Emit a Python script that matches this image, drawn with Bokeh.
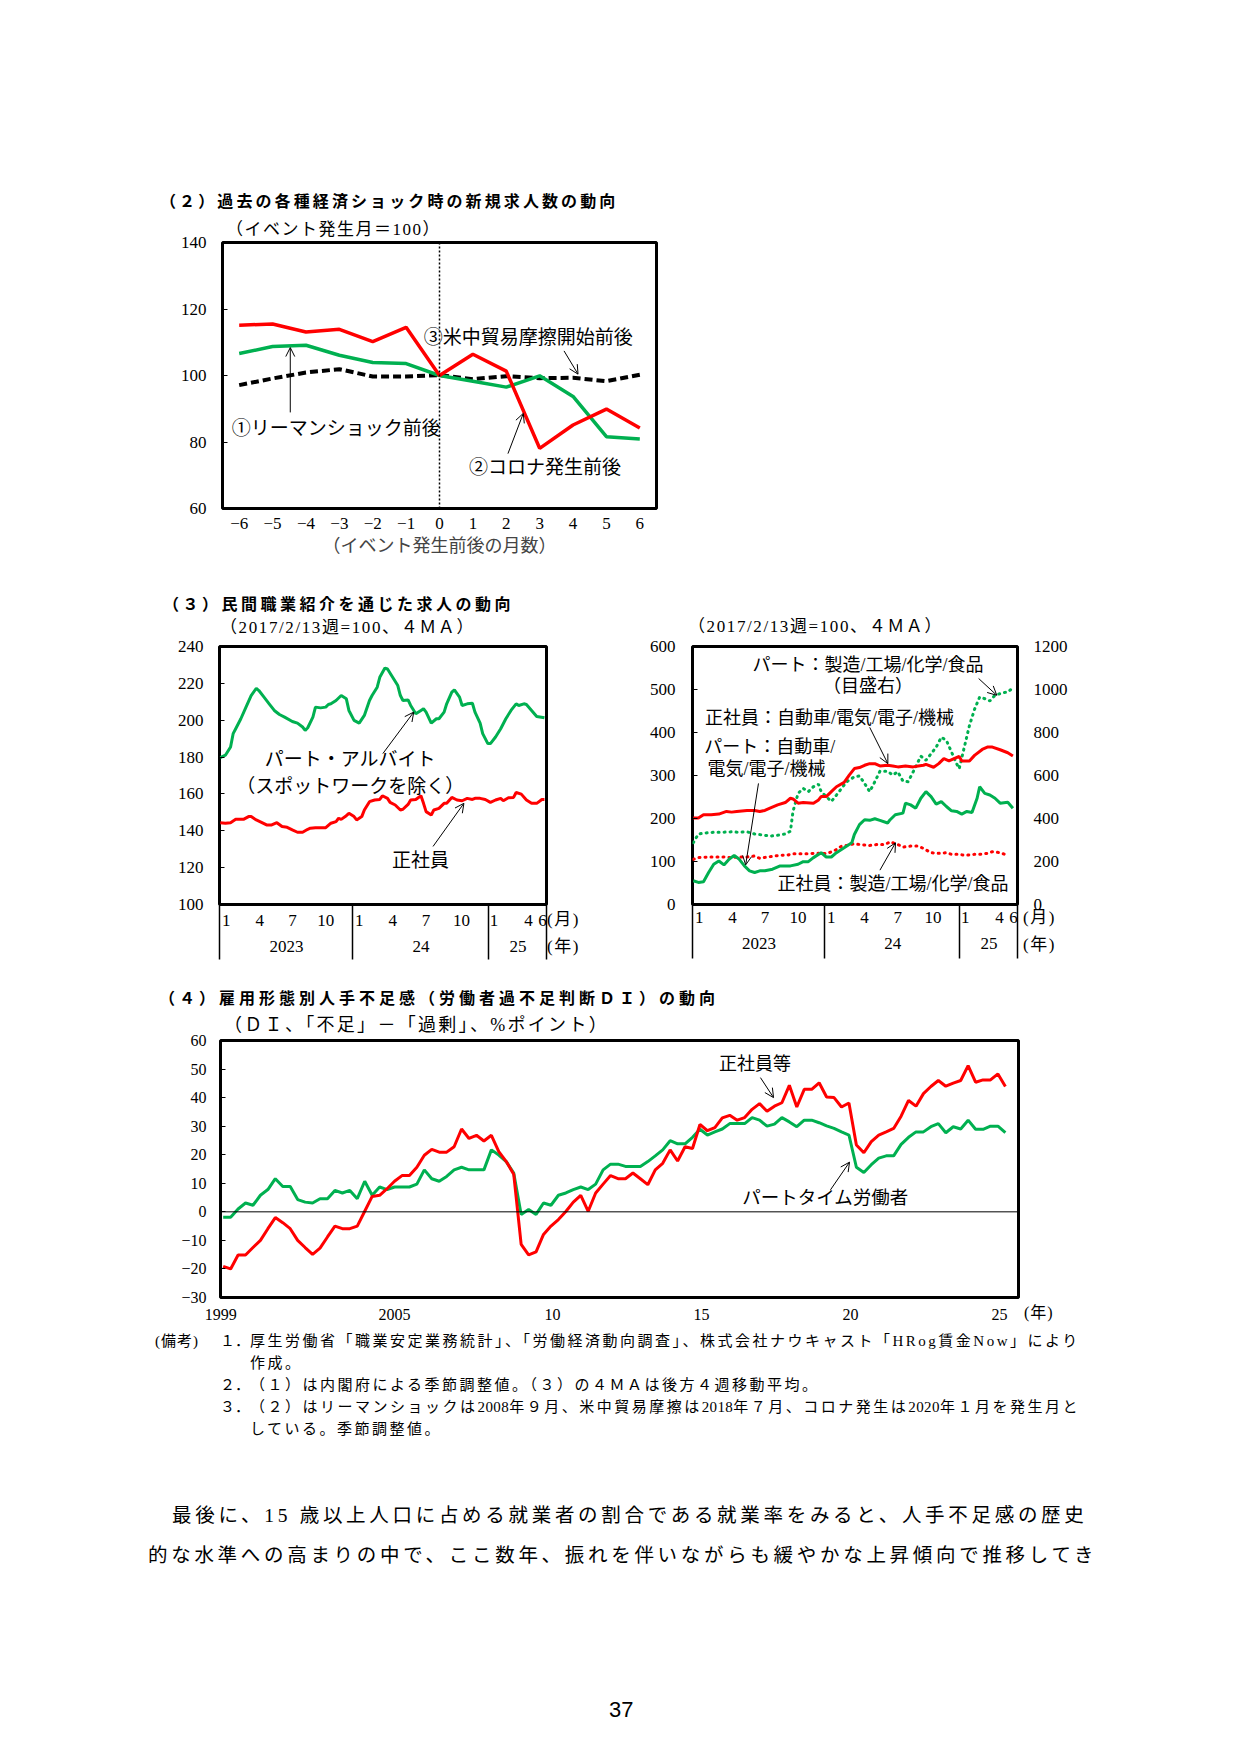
import numpy as np
from bokeh.plotting import figure
from bokeh.models import (Label, Arrow, OpenHead, Span, FixedTicker, LinearAxis,
                          Range1d, Div, Spacer, GridBox)
from bokeh.layouts import column, row
from bokeh.embed import file_html
from bokeh.resources import INLINE

# ======================= DATA =======================
# (2) new job offers around past economic shocks (event month = 100)
event_months = [-6, -5, -4, -3, -2, -1, 0, 1, 2, 3, 4, 5, 6]
event_month_labels = ["−6", "−5", "−4", "−3", "−2", "−1", "0", "1", "2", "3", "4", "5", "6"]
lehman = [106.6, 108.7, 109.1, 106.1, 103.9, 103.6, 100.0, 98.3, 96.5, 99.9, 93.7, 81.6, 80.9]
covid = [115.1, 115.5, 113.1, 113.9, 110.2, 114.5, 100.0, 106.4, 101.3, 78.1, 85.1, 89.9, 84.2]
trade = [97.1, 99.1, 100.9, 101.9, 99.7, 99.7, 100.1, 98.9, 99.8, 99.2, 99.3, 98.3, 100.2]

# (3) weeks counted from the first week of Jan 2023
month_tick_pos = [2.3, 15.3, 28.1, 41.0, 54.0, 67.0, 80.0, 93.8, 106.4, 119.8, 125.2]
month_tick_labels = ["1", "4", "7", "10", "1", "4", "7", "10", "1", "4", "6"]
year_bounds = [-0.2, 51.4, 104.2, 126.7]
year_label_pos = [25.7, 78.0, 115.7]
year_labels = ["2023", "24", "25"]

part_w = [0, 2, 4, 5, 6, 8, 10, 12, 14, 15, 17, 19, 21, 23, 25, 28, 30, 32, 33, 34,
          36, 37, 39, 41, 42, 43, 45, 47, 49, 50, 52, 54, 56, 58, 59, 61, 62, 64, 65, 67,
          69, 70, 71, 73, 74, 76, 78, 79, 80, 82, 84, 85, 87, 88, 90, 91, 93, 94, 96, 98,
          99, 101, 102, 104, 105, 107, 109, 111, 113, 115, 116, 118, 119, 121, 123, 126]
part_v = [179.7, 181.0, 185.5, 192.7, 195.4, 200.8, 207.1, 213.4, 217.3, 216.1,
          212.5, 208.9, 205.3, 203.1, 201.7, 199.3, 198.4, 196.3, 194.5, 195.9,
          201.7, 207.1, 206.7, 207.1, 208.5, 208.9, 210.7, 213.4, 211.6, 205.3,
          199.9, 198.4, 202.6, 210.7, 213.4, 217.9, 223.3, 228.3, 227.8, 223.3,
          218.8, 213.4, 210.7, 211.0, 208.0, 203.5, 205.3, 206.2, 204.4, 198.4,
          200.8, 200.8, 204.4, 208.9, 215.2, 216.4, 212.5, 208.0, 208.9, 209.2,
          204.4, 198.4, 192.7, 187.3, 187.3, 190.9, 195.4, 200.8, 205.3, 208.9,
          208.0, 208.9, 208.5, 205.3, 202.0, 201.3]
reg_w = [0, 2, 4, 6, 8, 9, 11, 12, 14, 16, 18, 20, 22, 24, 26, 28, 30, 32, 34, 35,
         37, 39, 41, 43, 45, 46, 47, 49, 50, 52, 53, 55, 56, 58, 60, 62, 63, 65, 66, 68,
         70, 71, 73, 74, 76, 78, 79, 80, 82, 83, 85, 87, 88, 90, 92, 94, 96, 98, 99, 101,
         103, 105, 107, 109, 110, 112, 114, 115, 117, 119, 121, 123, 125, 126]
reg_v = [144.4, 144.1, 144.4, 146.2, 146.2, 146.2, 147.7, 147.7, 145.9, 144.6,
         143.2, 143.2, 144.4, 142.3, 141.9, 140.5, 139.2, 139.2, 140.8, 141.4,
         141.7, 141.7, 141.7, 144.1, 145.0, 146.8, 146.2, 148.2, 149.5, 147.7,
         145.9, 147.7, 151.3, 155.8, 156.7, 157.0, 159.0, 157.6, 155.4, 154.0,
         151.3, 151.7, 154.3, 156.7, 157.0, 159.0, 154.9, 150.4, 148.6, 151.3,
         152.2, 154.9, 154.9, 158.1, 156.7, 156.3, 157.6, 157.0, 157.6, 157.6,
         157.0, 155.4, 156.7, 157.6, 156.3, 157.9, 158.1, 160.8, 159.9, 156.7,
         154.9, 154.9, 157.0, 157.0]

reg_auto_w = [0, 2, 4, 7, 10, 13, 15, 17, 21, 24, 26, 28, 30, 33, 36, 38, 39, 41, 43, 47,
              49, 50, 52, 54, 56, 59, 61, 63, 65, 67, 69, 71, 73, 76, 78, 80, 83, 86, 88, 90,
              91, 94, 96, 98, 100, 102, 104, 105, 108, 110, 113, 115, 117, 120, 123, 125]
reg_auto_v = [201.0, 201.0, 208.7, 208.7, 210.2, 216.4, 214.8, 216.4, 218.7, 218.7,
              216.4, 218.7, 224.0, 231.7, 237.1, 247.1, 245.5, 235.6, 237.1, 235.6,
              243.2, 250.9, 250.9, 262.4, 273.9, 283.9, 300.8, 316.1, 318.4, 323.8,
              327.6, 327.6, 322.3, 323.8, 322.3, 320.0, 322.3, 320.0, 322.3, 323.8,
              326.1, 319.2, 327.6, 339.1, 333.8, 339.1, 344.5, 333.8, 333.8, 346.8,
              360.6, 366.0, 366.0, 359.9, 352.9, 345.3]
part_auto_w = [0, 2, 4, 6, 8, 10, 12, 14, 16, 18, 20, 22, 24, 26, 28, 31, 34, 36, 38, 41,
               43, 45, 47, 50, 52, 54, 56, 59, 62, 63, 65, 67, 69, 71, 73, 76, 77, 79, 82, 83,
               85, 87, 89, 91, 93, 95, 97, 99, 101, 103, 105, 107, 109, 111, 112, 114, 116, 118,
               120, 123, 125]
part_auto_v = [55.2, 51.4, 52.9, 74.4, 93.6, 101.3, 92.1, 105.1, 114.3, 105.1,
               89.8, 78.3, 74.4, 78.3, 78.3, 82.1, 89.8, 89.8, 89.8, 93.6,
               99.7, 99.7, 109.0, 120.5, 110.5, 110.5, 120.5, 132.0, 143.5, 162.7,
               185.7, 197.2, 195.7, 199.5, 195.7, 189.5, 197.2, 208.7, 212.5, 235.6,
               231.7, 224.0, 247.1, 262.4, 250.9, 233.3, 239.4, 227.9, 217.9, 216.4,
               210.2, 216.4, 214.1, 247.1, 273.9, 258.6, 254.7, 247.1, 235.6, 237.9,
               224.0]
reg_mfg_w = [0, 2, 6, 9, 12, 15, 18, 21, 24, 26, 29, 32, 34, 37, 39, 42, 45, 47, 50, 52,
             55, 58, 60, 63, 65, 69, 72, 75, 77, 80, 82, 85, 88, 90, 93, 96, 99, 101, 104, 106,
             110, 112, 115, 117, 120, 123]
reg_mfg_v = [105.1, 109.0, 110.5, 110.5, 110.5, 109.0, 110.5, 110.5, 112.8, 107.4,
             110.5, 112.8, 114.3, 115.1, 118.2, 118.2, 118.2, 118.9, 118.9, 118.2,
             124.3, 135.8, 137.3, 141.2, 139.6, 137.3, 139.6, 139.6, 145.8, 139.6,
             133.5, 135.8, 135.8, 130.4, 120.5, 118.9, 120.5, 116.6, 116.6, 114.3,
             116.6, 116.6, 118.9, 122.8, 120.5, 114.3]
part_mfg_w = [0, 2, 5, 8, 11, 15, 18, 21, 24, 28, 30, 33, 36, 38, 39, 41, 43, 45, 47, 49,
              50, 52, 54, 56, 58, 60, 63, 65, 67, 69, 71, 73, 76, 78, 80, 82, 84, 86, 89, 91,
              93, 95, 97, 99, 101, 103, 104, 106, 108, 110, 112, 113, 116, 118, 121, 123, 125]
part_mfg_v = [287, 328, 333, 336, 336, 338, 336, 338, 328, 322,
              318, 322, 328, 341, 433, 517, 540, 525, 548, 559,
              525, 502, 479, 509, 540, 571, 594, 598, 563, 525,
              571, 620, 620, 602, 617, 574, 571, 617, 690, 671,
              701, 732, 778, 763, 709, 655, 632, 732, 832, 908,
              965, 962, 947, 973, 985, 988, 1008]

# (4) labour shortage DI, quarterly from 1999
di_first_year = 1999.25
di_regular = [-19.1, -20.0, -15.1, -15.1, -12.5, -10.0, -5.9, -2.0, -3.8, -5.9,
              -10.0, -12.5, -14.9, -12.7, -8.8, -5.0, -5.9, -5.9, -5.0, 0.2,
              5.4, 5.8, 8.1, 10.7, 12.7, 12.7, 15.6, 19.8, 21.9, 20.9,
              20.9, 22.8, 29.0, 25.7, 26.8, 24.8, 26.8, 21.1, 17.6, 13.2,
              -11.4, -15.1, -14.0, -7.9, -5.0, -2.7, 0.1, 3.4, 5.8, 0.2,
              6.6, 9.7, 12.7, 11.6, 11.6, 13.6, 11.6, 9.5, 14.7, 17.0,
              21.7, 17.8, 22.8, 22.2, 30.6, 28.4, 29.5, 32.9, 33.8, 32.1,
              33.0, 35.9, 37.9, 35.2, 37.0, 38.2, 44.3, 36.7, 42.9, 42.9,
              45.2, 40.2, 40.0, 36.7, 38.1, 23.4, 20.7, 24.6, 26.9, 28.0,
              29.2, 33.5, 39.0, 37.0, 41.4, 43.9, 46.0, 44.0, 45.1, 46.0,
              51.2, 45.4, 46.2, 46.2, 48.3, 43.9]
di_part = [-1.9, -1.9, 1.0, 3.1, 2.3, 5.8, 7.8, 11.6, 8.9, 8.9,
           4.3, 3.4, 3.1, 4.6, 4.6, 7.5, 6.6, 7.5, 4.6, 10.7,
           5.8, 8.7, 7.8, 8.7, 8.7, 8.7, 9.7, 14.7, 11.6, 10.7,
           12.4, 14.7, 15.6, 14.7, 14.7, 14.7, 21.7, 19.9, 17.6, 13.6,
           -0.9, 0.8, -0.9, 3.1, 2.3, 5.8, 6.6, 7.8, 8.7, 7.8,
           9.7, 14.7, 16.7, 16.7, 15.9, 15.9, 15.9, 17.6, 19.6, 21.7,
           24.9, 23.8, 23.8, 26.1, 28.9, 26.9, 28.0, 29.0, 30.9, 30.9,
           30.9, 33.0, 32.1, 30.0, 30.7, 33.0, 31.5, 29.8, 32.1, 32.1,
           31.2, 30.1, 29.2, 28.0, 26.9, 15.6, 13.8, 16.5, 18.8, 19.6,
           19.6, 23.6, 26.1, 28.0, 28.0, 29.8, 30.9, 27.7, 29.8, 29.0,
           32.1, 28.9, 28.9, 30.0, 30.0, 27.7]
di_year_ticks = [1999.17, 2005, 2010.3, 2015.3, 2020.3, 2025.3]
di_year_labels = ["1999", "2005", "10", "15", "20", "25"]

# ======================= STYLE =======================
RED = "#FF0000"
GREEN = "#00B050"
SERIF = "Liberation Serif, Noto Sans CJK JP"
SERIF_CSS = "'Liberation Serif','Noto Sans CJK JP'"
GOTH_CSS = "'Noto Sans CJK JP'"


def style_axis(ax, size="17px"):
    ax.axis_line_color = None
    ax.major_tick_out = 0
    ax.major_tick_in = 0
    ax.minor_tick_out = 0
    ax.minor_tick_in = 0
    ax.major_tick_line_color = "black"
    ax.major_label_text_font = SERIF
    ax.major_label_text_font_size = size
    ax.major_label_text_color = "black"


def make_fig(w, h, xr, yr, left, right, top, bottom):
    p = figure(width=w, height=h, x_range=Range1d(*xr), y_range=Range1d(*yr),
               output_backend="svg", toolbar_location=None,
               min_border_left=left, min_border_right=right,
               min_border_top=top, min_border_bottom=bottom)
    p.outline_line_color = "black"
    p.outline_line_width = 3
    p.outline_line_alpha = 1
    p.xgrid.visible = False
    p.ygrid.visible = False
    p.background_fill_color = "white"
    p.border_fill_color = "white"
    for ax in p.axis:
        style_axis(ax)
    return p


def text(p, s, x, y, size="18px", align="left"):
    p.add_layout(Label(x=x, y=y, text=s, text_font=SERIF, text_font_size=size,
                       text_align=align, text_baseline="middle", text_color="black"))


def arrow(p, x0, y0, x1, y1):
    p.add_layout(Arrow(end=OpenHead(size=9, line_width=1, line_color="black"),
                       x_start=x0, y_start=y0, x_end=x1, y_end=y1,
                       line_width=1, line_color="black"))


def week_axes(p, month_gap, year_standoff, sep_len):
    ax = p.xaxis[0]
    ax.ticker = FixedTicker(ticks=month_tick_pos, minor_ticks=year_bounds)
    ax.major_label_overrides = dict(zip(month_tick_pos, month_tick_labels))
    ax.minor_tick_out = sep_len
    ax.minor_tick_in = 0
    ax.minor_tick_line_color = "black"
    ax.minor_tick_line_width = 1.5
    ax.major_label_standoff = month_gap - sep_len
    yax = LinearAxis(ticker=FixedTicker(ticks=year_label_pos),
                     major_label_overrides=dict(zip(year_label_pos, year_labels)))
    style_axis(yax)
    yax.major_label_standoff = year_standoff
    p.add_layout(yax, "below")


# ======================= (2) =======================
p2 = make_fig(560, 385, (-6.5, 6.5), (60, 140), 82, 44, 57, 62)
p2.yaxis.ticker = FixedTicker(ticks=[60, 80, 100, 120, 140])
p2.yaxis.major_tick_in = 5
p2.yaxis.major_label_standoff = 16
p2.xaxis.ticker = FixedTicker(ticks=event_months)
p2.xaxis.major_label_overrides = dict(zip(event_months, event_month_labels))
p2.xaxis.major_label_standoff = 9
p2.xaxis.axis_label = "（イベント発生前後の月数）"
p2.xaxis.axis_label_text_font = SERIF
p2.xaxis.axis_label_text_font_size = "18px"
p2.xaxis.axis_label_text_font_style = "normal"
p2.xaxis.axis_label_standoff = 4
p2.add_layout(Span(location=0, dimension="height", line_color="black",
                   line_dash="2 2", line_width=1.5))
p2.line(event_months, trade, line_color="black", line_width=4, line_dash="8 4")
p2.line(event_months, lehman, line_color=GREEN, line_width=3.5)
p2.line(event_months, covid, line_color=RED, line_width=3.5)
text(p2, "③米中貿易摩擦開始前後", -0.47, 111.4, size="19px")
text(p2, "①リーマンショック前後", -6.22, 84.2, size="19px")
text(p2, "②コロナ発生前後", 0.88, 72.3, size="19px")
arrow(p2, 3.73, 107.4, 4.15, 100.4)
arrow(p2, -4.47, 88.9, -4.47, 108.4)
arrow(p2, 2.05, 76.5, 2.51, 88.6)

# ======================= (3) left =======================
p3L = make_fig(460, 400, (-0.3, 126.8), (100, 240), 79, 54, 76, 65)
p3L.yaxis.ticker = FixedTicker(ticks=list(range(100, 241, 20)))
p3L.yaxis.major_tick_in = 5
p3L.yaxis.major_label_standoff = 16
week_axes(p3L, 10, 12, 55)
p3L.line(part_w, part_v, line_color=GREEN, line_width=3)
p3L.line(reg_w, reg_v, line_color=RED, line_width=3)
text(p3L, "パート・アルバイト", 50.5, 178.6, size="19px", align="center")
text(p3L, "（スポットワークを除く）", 50.5, 164.2, size="19px", align="center")
arrow(p3L, 63.2, 181.9, 75.2, 204.4)
text(p3L, "正社員", 77.8, 124.0, size="19px", align="center")
arrow(p3L, 82.7, 131.5, 94.7, 154.9)

# ======================= (3) right =======================
p3R = make_fig(500, 400, (-0.3, 126.8), (0, 600), 92, 83, 73, 66)
p3R.extra_y_ranges = {"right": Range1d(0, 1200)}
p3R.yaxis.ticker = FixedTicker(ticks=list(range(0, 601, 100)))
p3R.yaxis.major_tick_in = 5
p3R.yaxis.major_label_standoff = 17
rax = LinearAxis(y_range_name="right", ticker=FixedTicker(ticks=list(range(0, 1201, 200))))
style_axis(rax)
rax.major_label_standoff = 16
p3R.add_layout(rax, "right")
week_axes(p3R, 7, 12, 54)
p3R.line(reg_mfg_w, reg_mfg_v, line_color=RED, line_width=3, line_dash="1 5", line_cap="round")
p3R.line(part_mfg_w, part_mfg_v, line_color=GREEN, line_width=3, line_dash="1 5",
         line_cap="round", y_range_name="right")
p3R.line(reg_auto_w, reg_auto_v, line_color=RED, line_width=3)
p3R.line(part_auto_w, part_auto_v, line_color=GREEN, line_width=3)
text(p3R, "パート：製造/工場/化学/食品", 68.3, 557.8, align="center")
text(p3R, "（目盛右）", 68.3, 508.0, align="center")
arrow(p3R, 111.6, 525.6, 118.7, 486.5)
text(p3R, "正社員：自動車/電気/電子/機械", 4.6, 432.7)
arrow(p3R, 69.0, 412.0, 76.1, 327.6)
text(p3R, "パート：自動車/", 4.3, 366.0)
text(p3R, "電気/電子/機械", 5.6, 316.1)
arrow(p3R, 25.5, 281.6, 20.5, 92.1)
text(p3R, "正社員：製造/工場/化学/食品", 32.9, 47.6)
arrow(p3R, 73.0, 79.8, 79.1, 143.5)

# ======================= (4) =======================
p4 = make_fig(960, 360, (1999.16, 2025.94), (-30, 60), 80, 82, 70, 33)
p4.yaxis.ticker = FixedTicker(ticks=list(range(-30, 61, 10)))
p4.yaxis.major_tick_in = 5
p4.yaxis.major_label_standoff = 14
p4.yaxis.major_label_text_font_size = "16px"
p4.xaxis.ticker = FixedTicker(ticks=di_year_ticks)
p4.xaxis.major_label_overrides = dict(zip(di_year_ticks, di_year_labels))
p4.xaxis.major_label_standoff = 11
p4.xaxis.major_label_text_font_size = "16px"
p4.add_layout(Span(location=0, dimension="width", line_color="black", line_width=1))
di_years = [di_first_year + 0.25 * i for i in range(len(di_regular))]
p4.line(di_years, di_part, line_color=GREEN, line_width=3)
p4.line(di_years, di_regular, line_color=RED, line_width=3)
text(p4, "正社員等", 2017.1, 51.9, align="center")
arrow(p4, 2017.28, 47.0, 2017.72, 40.0)
text(p4, "パートタイム労働者", 2019.46, 5.0, size="18.5px", align="center")
arrow(p4, 2019.63, 7.7, 2020.27, 17.4)

# ======================= page texts (overlay) =======================
def span(s, left, cy, size, ls=0.0, bold=False, family=SERIF_CSS, lh=None):
    lh = lh or round(size * 1.5)
    top = cy - lh / 2
    return ('<span style="position:absolute;left:%spx;top:%spx;height:%spx;line-height:%spx;'
            'font-size:%spx;letter-spacing:%spx;font-weight:%s;font-family:%s;'
            'white-space:nowrap;color:#000">%s</span>'
            % (left, top, lh, lh, size, ls, "bold" if bold else "normal", family, s))


def tight(s):
    return '<span style="letter-spacing:0.4px">%s</span>' % s


items = [
    span("（２）過去の各種経済ショック時の新規求人数の動向", 160, 200, 16, 3.1, True, GOTH_CSS),
    span("（イベント発生月＝100）", 226, 230, 17, 1.5),
    span("（３）民間職業紹介を通じた求人の動向", 163, 603, 16, 3.5, True, GOTH_CSS),
    span("（2017/2/13週=100、４ＭＡ）", 220, 628, 17, 1.6),
    span("（2017/2/13週=100、４ＭＡ）", 688, 627, 17, 1.6),
    span("(月)", 547, 920, 17, 1.5),
    span("(年)", 547, 947, 17, 1.5),
    span("(月)", 1023, 918, 17, 1.5),
    span("(年)", 1023, 945, 17, 1.5),
    span("（４）雇用形態別人手不足感（労働者過不足判断ＤＩ）の動向", 159, 997, 16, 4.0, True, GOTH_CSS),
    span("（ＤＩ、「不足」－「過剰」、%ポイント）", 224, 1025, 18, 2.3),
    span("(年)", 1024, 1313, 16, 1.0),
]

note_lines = [
    (1341, "(備考)", "１．", "厚生労働省「職業安定業務統計」、「労働経済動向調査」、株式会社ナウキャスト「HRog賃金Now」により"),
    (1363, "", "", "作成。"),
    (1385, "", "２．", "（１）は内閣府による季節調整値。（３）の４ＭＡは後方４週移動平均。"),
    (1407, "", "３．", "（２）はリーマンショックは" + tight("2008") + "年９月、米中貿易摩擦は" + tight("2018")
     + "年７月、コロナ発生は" + tight("2020") + "年１月を発生月と"),
    (1429, "", "", "している。季節調整値。"),
]
for cy, a, b, c in note_lines:
    if a:
        items.append(span(a, 155, cy, 15, 1.0))
    if b:
        items.append(span(b, 220, cy, 15, 0.0))
    items.append(span(c, 250, cy, 15, 2.5))

body_lines = [
    (1515, 172, "最後に、15 歳以上人口に占める就業者の割合である就業率をみると、人手不足感の歴史"),
    (1555, 148, "的な水準への高まりの中で、ここ数年、振れを伴いながらも緩やかな上昇傾向で推移してき"),
]
for cy, left, s in body_lines:
    items.append(span(s, left, cy, 19.5, 3.7))

items.append(span("37", 609, 1709, 22, 0.0, False, "'Liberation Sans'"))

overlay = Div(text='<div style="position:relative;width:1241px;height:1755px">' + "".join(items) + "</div>",
              width=1241, height=1755, margin=0)

charts = column(
    Spacer(width=1241, height=185),
    row(Spacer(width=140, height=385), p2),
    row(Spacer(width=140, height=400), p3L, p3R),
    row(Spacer(width=140, height=360), p4),
)

root = GridBox(children=[(charts, 0, 0), (overlay, 0, 0)], spacing=0)

open("out.html", "w").write(file_html(root, INLINE))
